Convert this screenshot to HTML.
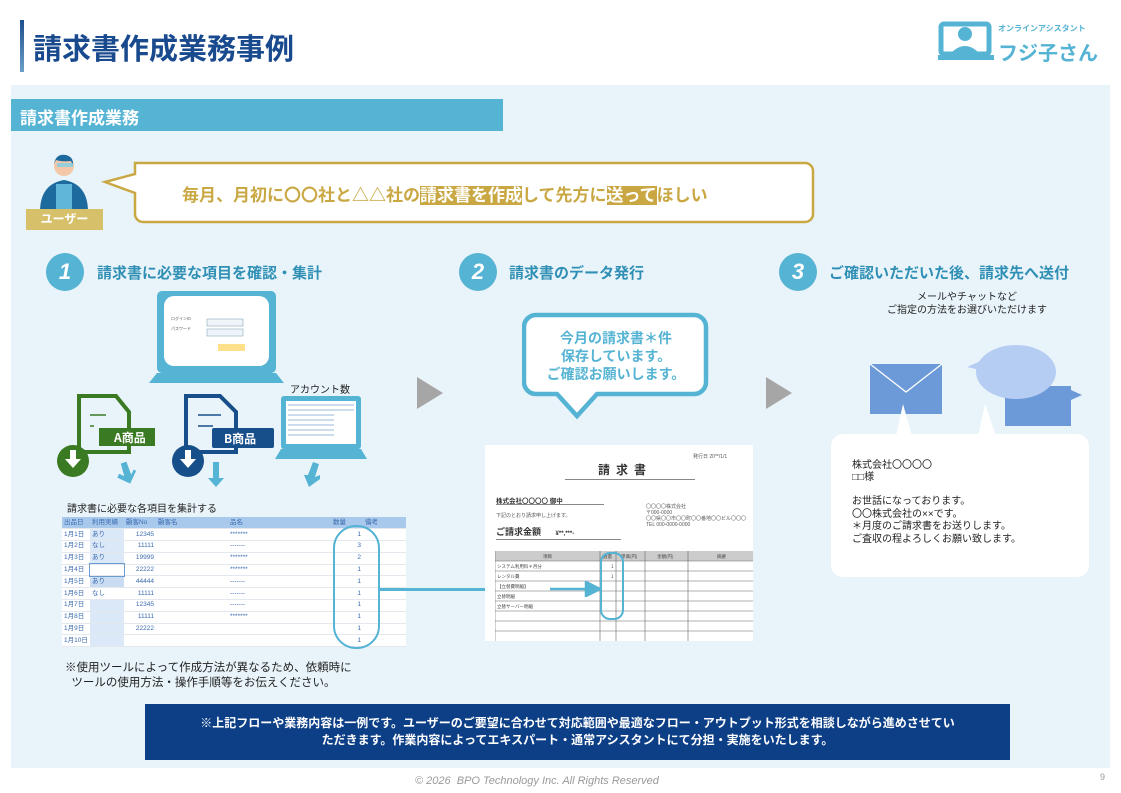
<!DOCTYPE html>
<html><head><meta charset="utf-8"><style>
*{margin:0;padding:0;box-sizing:border-box}
body{width:1121px;height:793px;background:#fff;position:relative;overflow:hidden;font-family:"Liberation Sans","Noto Sans CJK JP",sans-serif;color:#222}
.a{position:absolute}
.t{white-space:nowrap}
.num{position:absolute;width:38px;height:38px;border-radius:50%;background:#55b3d3;color:#fff;font-style:italic;font-weight:bold;font-size:22px;text-align:center;line-height:38px}
.st{position:absolute;color:#2f8fb4;font-weight:bold;font-size:15px;white-space:nowrap}
table.g{border-collapse:collapse;font-size:6.5px;color:#3a6ab0;table-layout:fixed}
table.g td{height:11.8px;line-height:10px;border-bottom:1px solid #e3e8ef;padding:0 2px;background:#fff;white-space:nowrap;overflow:hidden}
</style></head><body>
<!-- title -->
<div class="a" style="left:20px;top:20px;width:4px;height:52px;background:linear-gradient(#1d4f8c,#6ca0c8)"></div>
<div class="a t" style="left:33px;top:26px;font-size:29px;font-weight:bold;color:#1a4a8e">請求書作成業務事例</div>
<!-- logo -->
<svg class="a" style="left:938px;top:18px" width="175" height="46">
<rect x="3" y="6" width="48" height="30" rx="3" fill="none" stroke="#55b3d3" stroke-width="5"/>
<rect x="0" y="37" width="56" height="5" fill="#55b3d3"/>
<circle cx="27" cy="16" r="7" fill="#55b3d3"/><path d="M12 36 Q27 20 42 36Z" fill="#55b3d3"/>
<text x="60" y="13" font-size="8" font-weight="bold" fill="#55b3d3" font-family="Noto Sans CJK JP">オンラインアシスタント</text>
<text x="60" y="42" font-size="20" font-weight="bold" fill="#55b3d3" font-family="Noto Sans CJK JP">フジ子さん</text>
</svg>
<!-- panel -->
<div class="a" style="left:11px;top:85px;width:1099px;height:683px;background:#e9f4fa"></div>
<div class="a" style="left:11px;top:99px;width:492px;height:32px;background:#55b3d3"></div>
<div class="a t" style="left:20px;top:104px;font-size:17px;font-weight:bold;color:#fff">請求書作成業務</div>
<!-- user -->
<svg class="a" style="left:36px;top:152px" width="60" height="62">
<circle cx="28" cy="14" r="10" fill="#f4c7a8"/><path d="M18 12 Q20 1 30 3 Q38 5 37 14 L35 9 Q26 10 20 8Z" fill="#1c6a9e"/>
<rect x="21" y="11" width="16" height="4" fill="#7fd0e8" opacity=".8"/>
<path d="M4 60 Q4 32 28 28 Q52 32 52 60Z" fill="#1c6a9e"/><rect x="20" y="32" width="16" height="28" fill="#5fb6d6"/>
</svg>
<div class="a t" style="left:26px;top:209px;width:77px;height:21px;background:#d6c069;color:#fff;font-size:12px;font-weight:bold;text-align:center;line-height:21px">ユーザー</div>
<svg class="a" style="left:100px;top:160px" width="715" height="66">
<path d="M35 3 H705 a8 8 0 0 1 8 8 V54 a8 8 0 0 1 -8 8 H43 a8 8 0 0 1 -8 -8 V33 L5 22 L35 14 Z" fill="#fff" stroke="#c9a844" stroke-width="2.5"/>
</svg>
<div class="a t" style="left:182px;top:181px;font-size:17px;font-weight:bold;color:#c9a844">毎月、月初に〇〇社と△△社の<span style="background:#c9a844;color:#fff">請求書を作成</span>して先方に<span style="background:#c9a844;color:#fff">送って</span>ほしい</div>
<!-- steps -->
<div class="num" style="left:46px;top:253px">1</div><div class="st" style="left:97px;top:262px">請求書に必要な項目を確認・集計</div>
<div class="num" style="left:459px;top:253px">2</div><div class="st" style="left:509px;top:262px">請求書のデータ発行</div>
<div class="num" style="left:779px;top:253px">3</div><div class="st" style="left:829px;top:262px">ご確認いただいた後、請求先へ送付</div>
<!-- laptop login -->
<svg class="a" style="left:148px;top:290px" width="140" height="95">
<rect x="9" y="1" width="119" height="82" rx="5" fill="#55b3d3"/><rect x="16" y="6" width="105" height="70" rx="10" fill="#fff"/>
<path d="M9 83 H128 L136 93 H1Z" fill="#55b3d3"/>
<text x="23" y="30" font-size="4" fill="#555" font-family="Noto Sans CJK JP">ログインID</text>
<text x="23" y="40" font-size="4" fill="#555" font-family="Noto Sans CJK JP">パスワード</text>
<rect x="59" y="29" width="36" height="7" fill="#eef4fa" stroke="#8ab" stroke-width=".6"/><rect x="59" y="39" width="36" height="7" fill="#eef4fa" stroke="#8ab" stroke-width=".6"/>
<rect x="70" y="54" width="27" height="7" fill="#ffe08a"/>
</svg>
<div class="a t" style="left:290px;top:381px;font-size:10px">アカウント数</div>
<!-- doc A -->
<svg class="a" style="left:56px;top:392px" width="100" height="90">
<path d="M23 4 H60 L73 20 V60 H23Z" fill="none" stroke="#3a7a22" stroke-width="4"/>
<line x1="34" y1="23" x2="50" y2="23" stroke="#3a7a22" stroke-width="1.5"/><line x1="34" y1="34" x2="38" y2="34" stroke="#3a7a22" stroke-width="1.5"/>
<rect x="43" y="36" width="56" height="18" fill="#3a7a22"/><text x="58" y="50" font-size="12" font-weight="bold" fill="#fff" font-family="Noto Sans CJK JP">A商品</text>
<circle cx="17" cy="69" r="16" fill="#3a7a22"/><path d="M14 58 h6 v9 h5 l-8 9 l-8 -9 h5z" fill="#fff"/>
</svg>
<svg class="a" style="left:168px;top:392px" width="110" height="90">
<path d="M18 4 H52 L68 20 V60 H18Z" fill="none" stroke="#174f8a" stroke-width="4"/>
<line x1="30" y1="23" x2="53" y2="23" stroke="#174f8a" stroke-width="1.5"/><line x1="30" y1="34" x2="45" y2="34" stroke="#174f8a" stroke-width="1.5"/>
<rect x="44" y="36" width="62" height="20" rx="2" fill="#174f8a"/><text x="56" y="51" font-size="12" font-weight="bold" fill="#fff" font-family="Noto Sans CJK JP">B商品</text>
<circle cx="20" cy="69" r="16" fill="#174f8a"/><path d="M17 58 h6 v9 h5 l-8 9 l-8 -9 h5z" fill="#fff"/>
</svg>
<svg class="a" style="left:274px;top:395px" width="94" height="70">
<rect x="7" y="1" width="80" height="53" rx="3" fill="#55b3d3"/><rect x="12" y="6" width="70" height="43" fill="#fff"/>
<g stroke="#9ab8d8" stroke-width="1"><line x1="14" y1="10" x2="80" y2="10"/><line x1="14" y1="15" x2="80" y2="15"/><line x1="14" y1="20" x2="60" y2="20"/><line x1="14" y1="25" x2="60" y2="25"/><line x1="14" y1="30" x2="60" y2="30"/><line x1="14" y1="35" x2="60" y2="35"/><line x1="14" y1="40" x2="60" y2="40"/></g>
<path d="M7 54 H87 L93 64 H1Z" fill="#55b3d3"/>
</svg>
<svg class="a" style="left:115px;top:460px" width="210" height="30" fill="#55b3d3">
<path d="M9 2 l6 0 l0 14 l4 -4 l2 2 l-10 10 l-10 -10 l3 -3 l4 4z" transform="rotate(-20 12 12)"/>
<path d="M98 2 h6 v16 h5 l-8 9 l-8 -9 h5z"/>
<path d="M198 2 l6 2 l-4 13 l5 -2 l0 4 l-11 8 l-5 -12 l4 0 z"/>
</svg>
<div class="a t" style="left:67px;top:500px;font-size:10px">請求書に必要な各項目を集計する</div>
<!-- table -->
<div class="a" style="left:62px;top:517px;width:344px;height:130px;background:#fff;overflow:hidden">
<table class="g" style="width:344px">
<colgroup><col style="width:28px"><col style="width:34px"><col style="width:32px"><col style="width:72px"><col style="width:103px"><col style="width:32px"><col></colgroup>
<tr><td style="background:#a8c9ec">出品日</td><td style="background:#a8c9ec">利用実績</td><td style="background:#a8c9ec">顧客No</td><td style="background:#a8c9ec">顧客名</td><td style="background:#a8c9ec">品名</td><td style="background:#a8c9ec">数量</td><td style="background:#a8c9ec">備考</td></tr>
<tr><td>1月1日</td><td style="background:#dbe8f7">あり</td><td align="right">12345</td><td></td><td>*******</td><td align="right">1</td><td></td></tr>
<tr><td>1月2日</td><td style="background:#dbe8f7">なし</td><td align="right">11111</td><td></td><td>-------</td><td align="right">3</td><td></td></tr>
<tr><td>1月3日</td><td style="background:#dbe8f7">あり</td><td align="right">19999</td><td></td><td>*******</td><td align="right">2</td><td></td></tr>
<tr><td>1月4日</td><td style="background:#fff;outline:1px solid #6a9ad0"></td><td align="right">22222</td><td></td><td>*******</td><td align="right">1</td><td></td></tr>
<tr><td>1月5日</td><td style="background:#c9dcf2">あり</td><td align="right">44444</td><td></td><td>-------</td><td align="right">1</td><td></td></tr>
<tr><td>1月6日</td><td style="background:#fff">なし</td><td align="right">11111</td><td></td><td>-------</td><td align="right">1</td><td></td></tr>
<tr><td>1月7日</td><td style="background:#dbe8f7"></td><td align="right">12345</td><td></td><td>-------</td><td align="right">1</td><td></td></tr>
<tr><td>1月8日</td><td style="background:#dbe8f7"></td><td align="right">11111</td><td></td><td>*******</td><td align="right">1</td><td></td></tr>
<tr><td>1月9日</td><td style="background:#dbe8f7"></td><td align="right">22222</td><td></td><td></td><td align="right">1</td><td></td></tr>
<tr><td>1月10日</td><td style="background:#dbe8f7"></td><td></td><td></td><td></td><td align="right">1</td><td></td></tr>
</table></div>
<div class="a" style="left:333px;top:525px;width:47px;height:124px;border:2.5px solid #55b3d3;border-radius:23px"></div>
<div class="a" style="left:380px;top:588px;width:200px;height:2.5px;background:#55b3d3"></div>
<div class="a t" style="left:65px;top:661px;font-size:11.5px;line-height:15px">※使用ツールによって作成方法が異なるため、依頼時に<br>&nbsp;&nbsp;ツールの使用方法・操作手順等をお伝えください。</div>
<!-- gray arrows -->
<svg class="a" style="left:417px;top:377px" width="28" height="34"><path d="M0 0 L26 16 L0 32Z" fill="#a6a6a6"/></svg>
<svg class="a" style="left:766px;top:377px" width="28" height="34"><path d="M0 0 L26 16 L0 32Z" fill="#a6a6a6"/></svg>
<!-- step 2 bubble -->
<svg class="a" style="left:522px;top:312px" width="190" height="110">
<path d="M14 3 H172 a12 12 0 0 1 12 12 V70 a12 12 0 0 1 -12 12 H75 L55 104 L35 82 H14 a12 12 0 0 1 -12 -12 V15 a12 12 0 0 1 12 -12Z" fill="#fff" stroke="#55b3d3" stroke-width="4.5"/>
</svg>
<div class="a" style="left:524px;top:329px;width:184px;text-align:center;font-size:14px;font-weight:bold;color:#55b3d3;line-height:18px">今月の請求書＊件<br>保存しています。<br>ご確認お願いします。</div>
<!-- invoice -->
<div class="a" style="left:485px;top:445px;width:268px;height:196px;background:#fff;font-size:5px;color:#555">
<div class="a t" style="left:208px;top:8px">発行日 20**/1/1</div>
<div class="a t" style="left:113px;top:16px;font-size:12px;font-weight:bold;color:#333;letter-spacing:6px">請求書</div>
<div class="a" style="left:80px;top:34px;width:130px;height:1px;background:#888"></div>
<div class="a t" style="left:11px;top:50px;font-size:6.5px;font-weight:bold;color:#333">株式会社〇〇〇〇 御中</div>
<div class="a" style="left:11px;top:59px;width:108px;height:1px;background:#888"></div>
<div class="a t" style="left:11px;top:67px">下記のとおり請求申し上げます。</div>
<div class="a t" style="left:161px;top:59px;line-height:6px">〇〇〇〇株式会社<br>〒000-0000<br>〇〇県〇〇市〇〇町〇〇番地〇〇ビル〇〇〇<br>TEL 000-0000-0000</div>
<div class="a t" style="left:11px;top:80px;font-size:9px;font-weight:bold;color:#333">ご請求金額 <span style="font-size:6px;margin-left:12px">¥**,***-</span></div>
<div class="a" style="left:11px;top:94px;width:125px;height:1px;background:#888"></div>
<svg class="a" style="left:10px;top:106px" width="258" height="90">
<rect x="0" y="0" width="258" height="10" fill="#ccc"/>
<g stroke="#666" stroke-width=".6"><line x1="0" y1="0" x2="0" y2="90"/><line x1="105" y1="0" x2="105" y2="90"/><line x1="121" y1="0" x2="121" y2="90"/><line x1="150" y1="0" x2="150" y2="90"/><line x1="193" y1="0" x2="193" y2="90"/>
<line x1="0" y1="10" x2="258" y2="10"/><line x1="0" y1="20" x2="258" y2="20"/><line x1="0" y1="30" x2="258" y2="30"/><line x1="0" y1="40" x2="258" y2="40"/><line x1="0" y1="50" x2="258" y2="50"/><line x1="0" y1="60" x2="258" y2="60"/><line x1="0" y1="70" x2="258" y2="70"/><line x1="0" y1="80" x2="258" y2="80"/></g>
<g font-size="4.5" fill="#444" font-family="Noto Sans CJK JP"><text x="48" y="7">項目</text><text x="108" y="7">数量</text><text x="126" y="7">単価(円)</text><text x="162" y="7">金額(円)</text><text x="222" y="7">摘要</text>
<text x="2" y="17">システム利用料＊月分</text><text x="2" y="27">レンタル費</text><text x="2" y="37">【立替費明細】</text><text x="2" y="47">立替明細</text><text x="2" y="57">立替サーバー明細</text><text x="116" y="17">1</text><text x="116" y="27">1</text></g>
</svg>
</div>
<div class="a" style="left:600px;top:552px;width:24px;height:68px;border:2.5px solid #55b3d3;border-radius:10px"></div>
<svg class="a" style="left:550px;top:581px" width="52" height="16"><path d="M0 8 H48 M36 1 L50 8 L36 15Z" fill="#55b3d3" stroke="#55b3d3" stroke-width="2.5"/></svg>
<!-- step 3 -->
<div class="a" style="left:850px;top:291px;width:234px;text-align:center;font-size:10px;line-height:13px">メールやチャットなど<br>ご指定の方法をお選びいただけます</div>
<svg class="a" style="left:830px;top:340px" width="260" height="240">
<rect x="40" y="24" width="72" height="50" fill="#6c9ad8"/><path d="M40 24 L76 52 L112 24" fill="none" stroke="#fff" stroke-width="1.3"/>
<rect x="175" y="46" width="66" height="40" fill="#6c9ad8"/><path d="M241 50 L252 55 L241 60Z" fill="#6c9ad8"/>
<ellipse cx="186" cy="32" rx="40" ry="27" fill="#b5cdf3"/><path d="M150 30 L137 27 L153 20Z" fill="#b5cdf3"/>
<rect x="1" y="94" width="258" height="143" rx="12" fill="#fff"/>
<path d="M66 96 L73 64 L82 96Z M148 96 L155 64 L166 96Z" fill="#fff"/>
</svg>
<div class="a t" style="left:852px;top:460px;font-size:10px;line-height:12px">株式会社〇〇〇〇<br>□□様</div>
<div class="a t" style="left:852px;top:496px;font-size:10px;line-height:12.5px">お世話になっております。<br>〇〇株式会社の××です。<br>＊月度のご請求書をお送りします。<br>ご査収の程よろしくお願い致します。</div>
<!-- bottom note -->
<div class="a" style="left:145px;top:704px;width:865px;height:56px;background:#0d3f87;color:#fff;font-size:12px;font-weight:bold;text-align:center;line-height:17px;padding-top:11px">※上記フローや業務内容は一例です。ユーザーのご要望に合わせて対応範囲や最適なフロー・アウトプット形式を相談しながら進めさせてい<br>ただきます。作業内容によってエキスパート・通常アシスタントにて分担・実施をいたします。</div>
<div class="a t" style="left:415px;top:775px;font-size:11px;font-style:italic;color:#999">© 2026 &nbsp;BPO Technology Inc. All Rights Reserved</div>
<div class="a t" style="left:1100px;top:772px;font-size:9px;color:#999">9</div>
</body></html>
